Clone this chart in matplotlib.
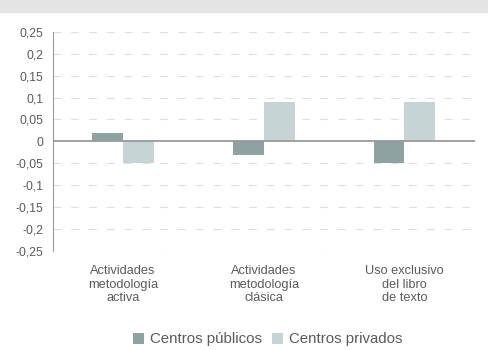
import matplotlib

matplotlib.use("Agg")
import matplotlib.pyplot as plt
import numpy as np

categories = [
    "Actividades\nmetodología\nactiva",
    "Actividades\nmetodología\nclásica",
    "Uso exclusivo\ndel libro\nde texto",
]
publicos = [0.02, -0.03, -0.05]
privados = [-0.05, 0.09, 0.09]
yticks = [0.25, 0.2, 0.15, 0.1, 0.05, 0, -0.05, -0.1, -0.15, -0.2, -0.25]

COLOR_PUB = "#8fa2a2"
COLOR_PRIV = "#c6d4d6"
TEXT = "#5a5a5a"

plt.rcParams["font.family"] = ["Liberation Sans", "DejaVu Sans"]

fig = plt.figure(figsize=(4.89, 3.5), dpi=100)

# faint grey band along the top edge
fig.patches.append(
    plt.Rectangle((0, 0.965), 1, 0.035, transform=fig.transFigure, color="#e4e4e4", zorder=0)
)

ax = fig.add_axes([0.108, 0.283, 0.863, 0.626])

x = np.arange(len(categories))
w = 0.22
ax.bar(x - w / 2, publicos, width=w, color=COLOR_PUB, label="Centros públicos", zorder=3)
ax.bar(x + w / 2, privados, width=w, color=COLOR_PRIV, label="Centros privados", zorder=3)
ax.axhline(0, color="#9a9a9a", linewidth=1.3, zorder=4)

ax.set_xlim(-0.5, 2.5)
ax.set_ylim(-0.25, 0.25)
ax.set_yticks(yticks)
ax.set_yticklabels([f"{v:g}".replace(".", ",") for v in yticks], fontsize=8.7, color=TEXT)
ax.set_xticks(x)
ax.set_xticklabels(categories, fontsize=9.2, color=TEXT, linespacing=1.2)
ax.tick_params(axis="both", length=0)
ax.tick_params(axis="y", pad=7)
ax.tick_params(axis="x", pad=10)

for t in yticks:
    if t != 0:
        ax.axhline(t, color="#dedede", linewidth=0.8, linestyle=(0, (7, 9)), zorder=1)

for s in ["top", "right", "bottom"]:
    ax.spines[s].set_visible(False)
ax.spines["left"].set_color("#9a9a9a")

fig.legend(
    loc="center",
    bbox_to_anchor=(0.548, 0.03),
    ncol=2,
    frameon=False,
    fontsize=10.8,
    handlelength=0.7,
    handleheight=0.7,
    handletextpad=0.4,
    columnspacing=0.7,
    labelcolor=TEXT,
)

fig.savefig("out.png", dpi=100)
